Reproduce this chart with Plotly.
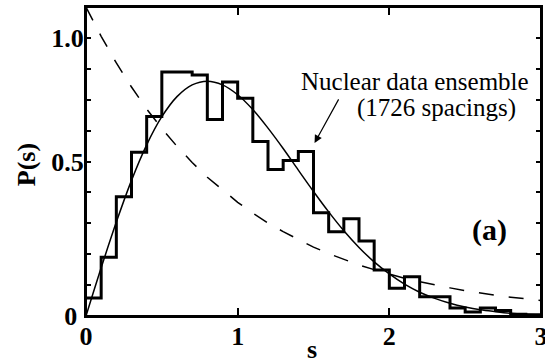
import plotly.graph_objects as go

# Histogram of nearest-neighbour spacings (bin width 0.1)
bin_edges = [round(0.1 * i, 1) for i in range(31)]
hist_vals = [0.058, 0.19, 0.386, 0.53, 0.646, 0.79, 0.79, 0.78, 0.636, 0.757,
             0.705, 0.565, 0.474, 0.503, 0.532, 0.334, 0.273, 0.315, 0.243, 0.149,
             0.09, 0.127, 0.062, 0.062, 0.026, 0.013, 0.026, 0.018, 0.006, 0.004]

# Smooth solid curve (GOE / Wigner)
s_grid = [round(0.1 * i, 1) for i in range(31)]
wigner_vals = [0.0, 0.156, 0.304, 0.439, 0.554, 0.645, 0.710, 0.748, 0.760, 0.748,
               0.716, 0.668, 0.608, 0.542, 0.472, 0.403, 0.337, 0.276, 0.222, 0.175,
               0.136, 0.103, 0.077, 0.057, 0.041, 0.029, 0.020, 0.014, 0.009, 0.006, 0.004]

# Dashed curve (Poisson)
poisson_vals = [1.0, 0.905, 0.819, 0.741, 0.670, 0.607, 0.549, 0.497, 0.449, 0.407,
                0.368, 0.333, 0.301, 0.273, 0.247, 0.223, 0.202, 0.183, 0.165, 0.150,
                0.135, 0.122, 0.111, 0.100, 0.091, 0.082, 0.074, 0.067, 0.061, 0.055, 0.050]

y_tickvals = [round(0.1 * i, 1) for i in range(11)]
y_ticktext = ['0\u00a0', '', '', '', '', '0.5', '', '', '', '1.0', '']
x_tickvals = [0, 1, 2, 3]
x_ticktext = ['0', '1', '2', '3']

SERIF = "Liberation Serif"

fig = go.Figure()
fig.add_trace(go.Scatter(x=s_grid, y=poisson_vals, mode='lines',
                         line=dict(color='black', width=1.5, dash='15px,15px'),
                         showlegend=False, hoverinfo='skip'))
fig.add_trace(go.Scatter(x=s_grid, y=wigner_vals, mode='lines',
                         line=dict(color='black', width=1.5, shape='spline'),
                         showlegend=False, hoverinfo='skip'))
fig.add_trace(go.Scatter(x=bin_edges, y=hist_vals + [hist_vals[-1]], mode='lines',
                         line=dict(color='black', width=3, shape='hv'),
                         showlegend=False, hoverinfo='skip'))
# empty trace so the mirrored (top/right) frame axes are drawn
fig.add_trace(go.Scatter(x=[None], y=[None], xaxis='x2', yaxis='y2', mode='lines',
                         showlegend=False, hoverinfo='skip'))

axis_common = dict(showline=True, linecolor='black', linewidth=2,
                   ticks='inside', tickcolor='black', tickwidth=1.5,
                   showgrid=False, zeroline=False, automargin=False,
                   ticklabeloverflow='allow',
                   tickfont=dict(family=SERIF, size=26, color='black', weight='bold'))

fig.update_layout(
    xaxis=dict(range=[0, 3], tickvals=x_tickvals, ticktext=x_ticktext, ticklen=8,
               ticklabelstandoff=-4, **axis_common),
    yaxis=dict(range=[0, 1.0], tickvals=y_tickvals, ticktext=y_ticktext, ticklen=5,
               ticklabelstandoff=-5, **axis_common),
    xaxis2=dict(range=[0, 3], overlaying='x', side='top', anchor='y',
                tickvals=[1, 2], ticks='inside', ticklen=8, tickwidth=1.5,
                tickcolor='black', showticklabels=False, showline=True,
                linecolor='black', linewidth=2, showgrid=False, zeroline=False),
    yaxis2=dict(range=[0, 1.0], overlaying='y', side='right', anchor='x',
                tickvals=y_tickvals[1:10], ticks='inside', ticklen=5, tickwidth=1.5,
                tickcolor='black', showticklabels=False, showline=True,
                linecolor='black', linewidth=2, showgrid=False, zeroline=False),
)

# plot frame
fig.add_shape(type='rect', xref='paper', yref='paper', x0=0, y0=0, x1=1, y1=1,
              line=dict(color='black', width=2), layer='above')

fig.add_annotation(text='s', xref='paper', yref='paper', x=0.496, y=-0.108,
                   xanchor='center', yanchor='middle', showarrow=False,
                   font=dict(family=SERIF, size=26, color='black', weight='bold'))
fig.add_annotation(text='P(s)', xref='paper', yref='paper', x=-0.129, y=0.489,
                   xanchor='center', yanchor='middle', textangle=-90, showarrow=False,
                   font=dict(family=SERIF, size=26, color='black', weight='bold'))

fig.add_annotation(text='Nuclear data ensemble', x=2.17, y=0.76, xref='x', yref='y',
                   xanchor='center', yanchor='middle', showarrow=False,
                   font=dict(family=SERIF, size=25, color='black'))
fig.add_annotation(text='(1726 spacings)', x=2.31, y=0.673, xref='x', yref='y',
                   xanchor='center', yanchor='middle', showarrow=False,
                   font=dict(family=SERIF, size=25, color='black'))
fig.add_annotation(text='', x=1.507, y=0.56, ax=1.671, ay=0.706, xref='x', yref='y',
                   axref='x', ayref='y', showarrow=True, arrowhead=2, arrowsize=1.3,
                   arrowwidth=1.2, arrowcolor='black', standoff=0)
fig.add_annotation(text='(a)', x=2.658, y=0.278, xref='x', yref='y', showarrow=False,
                   xanchor='center', yanchor='middle',
                   font=dict(family=SERIF, size=30, color='black', weight='bold'))

fig.update_layout(width=545, height=364, margin=dict(l=86, r=4, t=7, b=48),
                  paper_bgcolor='white', plot_bgcolor='white')

fig.write_html("out.html")
